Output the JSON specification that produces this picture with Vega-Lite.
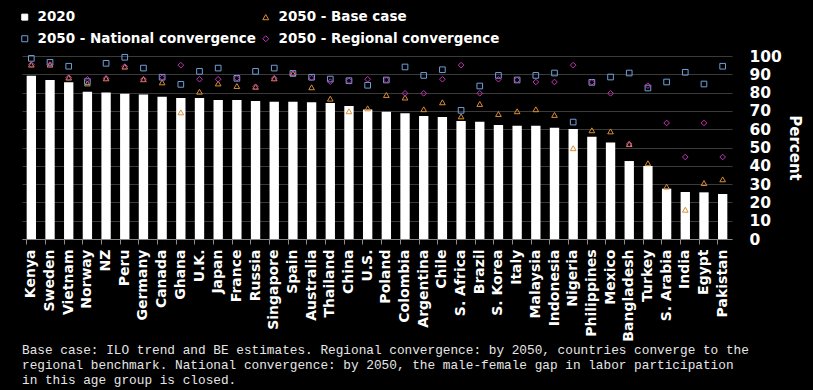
{
  "$schema": "https://vega.github.io/schema/vega-lite/v6.json",
  "autosize": {"type": "none"},
  "width": 710,
  "height": 183,
  "padding": {"left": 22, "top": 56, "right": 81, "bottom": 151},
  "background": "black",
  "title": {
    "text": [
      "Base case: ILO trend and BE estimates. Regional convergence: by 2050, countries converge to the",
      "regional benchmark. National convergence: by 2050, the male-female gap in labor participation",
      "in this age group is closed."
    ],
    "orient": "bottom",
    "anchor": "start",
    "frame": "group",
    "font": "Liberation Mono",
    "fontSize": 12.75,
    "fontWeight": "normal",
    "color": "#e6e6e6",
    "lineHeight": 15,
    "offset": 3
  },
  "config": {
    "view": {"stroke": null},
    "axis": {"labelFont": "DejaVu Sans", "titleFont": "DejaVu Sans"}
  },
  "data": {
    "values": [
      {"c": "Kenya", "s": "2020", "v": 89.2}, {"c": "Kenya", "s": "2050 - Base case", "v": 95.3}, {"c": "Kenya", "s": "2050 - National convergence", "v": 98.7}, {"c": "Kenya", "s": "2050 - Regional convergence", "v": 95.3},
      {"c": "Sweden", "s": "2020", "v": 86.9}, {"c": "Sweden", "s": "2050 - Base case", "v": 95.3}, {"c": "Sweden", "s": "2050 - National convergence", "v": 96.5}, {"c": "Sweden", "s": "2050 - Regional convergence", "v": 95.3},
      {"c": "Vietnam", "s": "2020", "v": 85.6}, {"c": "Vietnam", "s": "2050 - Base case", "v": 88.2}, {"c": "Vietnam", "s": "2050 - National convergence", "v": 94.4}, {"c": "Vietnam", "s": "2050 - Regional convergence", "v": 88.2},
      {"c": "Norway", "s": "2020", "v": 80.5}, {"c": "Norway", "s": "2050 - Base case", "v": 85.0}, {"c": "Norway", "s": "2050 - National convergence", "v": 86.0}, {"c": "Norway", "s": "2050 - Regional convergence", "v": 87.3},
      {"c": "NZ", "s": "2020", "v": 80.0}, {"c": "NZ", "s": "2050 - Base case", "v": 87.8}, {"c": "NZ", "s": "2050 - National convergence", "v": 96.0}, {"c": "NZ", "s": "2050 - Regional convergence", "v": 87.8},
      {"c": "Peru", "s": "2020", "v": 79.4}, {"c": "Peru", "s": "2050 - Base case", "v": 94.2}, {"c": "Peru", "s": "2050 - National convergence", "v": 99.3}, {"c": "Peru", "s": "2050 - Regional convergence", "v": 94.2},
      {"c": "Germany", "s": "2020", "v": 78.9}, {"c": "Germany", "s": "2050 - Base case", "v": 87.3}, {"c": "Germany", "s": "2050 - National convergence", "v": 93.4}, {"c": "Germany", "s": "2050 - Regional convergence", "v": 87.3},
      {"c": "Canada", "s": "2020", "v": 77.8}, {"c": "Canada", "s": "2050 - Base case", "v": 85.6}, {"c": "Canada", "s": "2050 - National convergence", "v": 88.4}, {"c": "Canada", "s": "2050 - Regional convergence", "v": 88.2},
      {"c": "Ghana", "s": "2020", "v": 77.0}, {"c": "Ghana", "s": "2050 - Base case", "v": 69.2}, {"c": "Ghana", "s": "2050 - National convergence", "v": 84.5}, {"c": "Ghana", "s": "2050 - Regional convergence", "v": 95.0},
      {"c": "U.K.", "s": "2020", "v": 77.0}, {"c": "U.K.", "s": "2050 - Base case", "v": 80.5}, {"c": "U.K.", "s": "2050 - National convergence", "v": 91.6}, {"c": "U.K.", "s": "2050 - Regional convergence", "v": 87.3},
      {"c": "Japan", "s": "2020", "v": 76.0}, {"c": "Japan", "s": "2050 - Base case", "v": 85.0}, {"c": "Japan", "s": "2050 - National convergence", "v": 93.4}, {"c": "Japan", "s": "2050 - Regional convergence", "v": 87.3},
      {"c": "France", "s": "2020", "v": 76.0}, {"c": "France", "s": "2050 - Base case", "v": 83.6}, {"c": "France", "s": "2050 - National convergence", "v": 87.8}, {"c": "France", "s": "2050 - Regional convergence", "v": 87.8},
      {"c": "Russia", "s": "2020", "v": 75.4}, {"c": "Russia", "s": "2050 - Base case", "v": 83.2}, {"c": "Russia", "s": "2050 - National convergence", "v": 91.6}, {"c": "Russia", "s": "2050 - Regional convergence", "v": 83.2},
      {"c": "Singapore", "s": "2020", "v": 75.0}, {"c": "Singapore", "s": "2050 - Base case", "v": 87.8}, {"c": "Singapore", "s": "2050 - National convergence", "v": 93.4}, {"c": "Singapore", "s": "2050 - Regional convergence", "v": 87.8},
      {"c": "Spain", "s": "2020", "v": 75.0}, {"c": "Spain", "s": "2050 - Base case", "v": 90.5}, {"c": "Spain", "s": "2050 - National convergence", "v": 90.5}, {"c": "Spain", "s": "2050 - Regional convergence", "v": 90.5},
      {"c": "Australia", "s": "2020", "v": 74.7}, {"c": "Australia", "s": "2050 - Base case", "v": 82.9}, {"c": "Australia", "s": "2050 - National convergence", "v": 88.4}, {"c": "Australia", "s": "2050 - Regional convergence", "v": 88.0},
      {"c": "Thailand", "s": "2020", "v": 74.3}, {"c": "Thailand", "s": "2050 - Base case", "v": 76.7}, {"c": "Thailand", "s": "2050 - National convergence", "v": 87.4}, {"c": "Thailand", "s": "2050 - Regional convergence", "v": 86.0},
      {"c": "China", "s": "2020", "v": 72.7}, {"c": "China", "s": "2050 - Base case", "v": 69.8}, {"c": "China", "s": "2050 - National convergence", "v": 86.5}, {"c": "China", "s": "2050 - Regional convergence", "v": 86.5},
      {"c": "U.S.", "s": "2020", "v": 70.7}, {"c": "U.S.", "s": "2050 - Base case", "v": 71.4}, {"c": "U.S.", "s": "2050 - National convergence", "v": 84.0}, {"c": "U.S.", "s": "2050 - Regional convergence", "v": 87.3},
      {"c": "Poland", "s": "2020", "v": 69.6}, {"c": "Poland", "s": "2050 - Base case", "v": 78.7}, {"c": "Poland", "s": "2050 - National convergence", "v": 86.9}, {"c": "Poland", "s": "2050 - Regional convergence", "v": 86.9},
      {"c": "Colombia", "s": "2020", "v": 68.7}, {"c": "Colombia", "s": "2050 - Base case", "v": 77.3}, {"c": "Colombia", "s": "2050 - National convergence", "v": 94.0}, {"c": "Colombia", "s": "2050 - Regional convergence", "v": 79.6},
      {"c": "Argentina", "s": "2020", "v": 67.2}, {"c": "Argentina", "s": "2050 - Base case", "v": 70.9}, {"c": "Argentina", "s": "2050 - National convergence", "v": 89.4}, {"c": "Argentina", "s": "2050 - Regional convergence", "v": 79.6},
      {"c": "Chile", "s": "2020", "v": 66.7}, {"c": "Chile", "s": "2050 - Base case", "v": 74.7}, {"c": "Chile", "s": "2050 - National convergence", "v": 92.5}, {"c": "Chile", "s": "2050 - Regional convergence", "v": 87.3},
      {"c": "S. Africa", "s": "2020", "v": 64.5}, {"c": "S. Africa", "s": "2050 - Base case", "v": 67.0}, {"c": "S. Africa", "s": "2050 - National convergence", "v": 70.3}, {"c": "S. Africa", "s": "2050 - Regional convergence", "v": 95.0},
      {"c": "Brazil", "s": "2020", "v": 64.1}, {"c": "Brazil", "s": "2050 - Base case", "v": 73.8}, {"c": "Brazil", "s": "2050 - National convergence", "v": 83.6}, {"c": "Brazil", "s": "2050 - Regional convergence", "v": 79.6},
      {"c": "S. Korea", "s": "2020", "v": 62.3}, {"c": "S. Korea", "s": "2050 - Base case", "v": 68.3}, {"c": "S. Korea", "s": "2050 - National convergence", "v": 89.4}, {"c": "S. Korea", "s": "2050 - Regional convergence", "v": 87.3},
      {"c": "Italy", "s": "2020", "v": 61.9}, {"c": "Italy", "s": "2050 - Base case", "v": 69.8}, {"c": "Italy", "s": "2050 - National convergence", "v": 86.9}, {"c": "Italy", "s": "2050 - Regional convergence", "v": 86.9},
      {"c": "Malaysia", "s": "2020", "v": 61.9}, {"c": "Malaysia", "s": "2050 - Base case", "v": 70.9}, {"c": "Malaysia", "s": "2050 - National convergence", "v": 89.4}, {"c": "Malaysia", "s": "2050 - Regional convergence", "v": 85.8},
      {"c": "Indonesia", "s": "2020", "v": 60.8}, {"c": "Indonesia", "s": "2050 - Base case", "v": 67.8}, {"c": "Indonesia", "s": "2050 - National convergence", "v": 90.7}, {"c": "Indonesia", "s": "2050 - Regional convergence", "v": 85.8},
      {"c": "Nigeria", "s": "2020", "v": 60.1}, {"c": "Nigeria", "s": "2050 - Base case", "v": 49.6}, {"c": "Nigeria", "s": "2050 - National convergence", "v": 63.9}, {"c": "Nigeria", "s": "2050 - Regional convergence", "v": 95.0},
      {"c": "Philippines", "s": "2020", "v": 55.9}, {"c": "Philippines", "s": "2050 - Base case", "v": 59.4}, {"c": "Philippines", "s": "2050 - National convergence", "v": 85.6}, {"c": "Philippines", "s": "2050 - Regional convergence", "v": 85.6},
      {"c": "Mexico", "s": "2020", "v": 52.8}, {"c": "Mexico", "s": "2050 - Base case", "v": 58.8}, {"c": "Mexico", "s": "2050 - National convergence", "v": 88.5}, {"c": "Mexico", "s": "2050 - Regional convergence", "v": 79.6},
      {"c": "Bangladesh", "s": "2020", "v": 42.6}, {"c": "Bangladesh", "s": "2050 - Base case", "v": 51.9}, {"c": "Bangladesh", "s": "2050 - National convergence", "v": 90.7}, {"c": "Bangladesh", "s": "2050 - Regional convergence", "v": 51.9},
      {"c": "Turkey", "s": "2020", "v": 39.9}, {"c": "Turkey", "s": "2050 - Base case", "v": 41.4}, {"c": "Turkey", "s": "2050 - National convergence", "v": 82.5}, {"c": "Turkey", "s": "2050 - Regional convergence", "v": 83.8},
      {"c": "S. Arabia", "s": "2020", "v": 27.5}, {"c": "S. Arabia", "s": "2050 - Base case", "v": 28.6}, {"c": "S. Arabia", "s": "2050 - National convergence", "v": 85.8}, {"c": "S. Arabia", "s": "2050 - Regional convergence", "v": 63.4},
      {"c": "India", "s": "2020", "v": 25.7}, {"c": "India", "s": "2050 - Base case", "v": 16.0}, {"c": "India", "s": "2050 - National convergence", "v": 91.1}, {"c": "India", "s": "2050 - Regional convergence", "v": 44.8},
      {"c": "Egypt", "s": "2020", "v": 25.5}, {"c": "Egypt", "s": "2050 - Base case", "v": 30.6}, {"c": "Egypt", "s": "2050 - National convergence", "v": 84.7}, {"c": "Egypt", "s": "2050 - Regional convergence", "v": 63.4},
      {"c": "Pakistan", "s": "2020", "v": 24.6}, {"c": "Pakistan", "s": "2050 - Base case", "v": 32.6}, {"c": "Pakistan", "s": "2050 - National convergence", "v": 94.4}, {"c": "Pakistan", "s": "2050 - Regional convergence", "v": 44.8}
    ]
  },
  "encoding": {
    "y": {
      "field": "v", "type": "quantitative",
      "scale": {"domain": [0, 100]},
      "axis": {
        "orient": "right", "title": "Percent", "values": [0, 10, 20, 30, 40, 50, 60, 70, 80, 90, 100],
        "labelOverlap": false, "labelFontSize": 15.5, "labelFontWeight": "bold", "labelColor": "white", "labelPadding": 17,
        "ticks": false, "domain": false, "grid": true, "gridColor": "#3a3a3a", "gridWidth": 1,
        "titleFontSize": 15, "titleFontWeight": "bold", "titleColor": "white", "titleAngle": 90, "titlePadding": 5
      }
    }
  },
  "resolve": {"axis": {"x": "independent"}},
  "layer": [
    {
      "transform": [{"filter": "datum.s === '2020'"}],
      "mark": {"type": "bar", "color": "white"},
      "encoding": {
        "x": {
          "field": "c", "type": "nominal", "sort": null,
          "scale": {"paddingInner": 0.5, "paddingOuter": 0.25},
          "axis": {
            "orient": "bottom", "title": null, "labelAngle": 270, "labelAlign": "right", "labelBaseline": "middle",
            "labelFontSize": 14, "labelFontWeight": "bold", "labelColor": "white", "labelPadding": 10,
            "ticks": false, "domain": false, "grid": false
          }
        }
      }
    },
    {
      "transform": [{"filter": "datum.s !== '2020'"}],
      "mark": {"type": "point", "strokeWidth": 1, "size": 32, "opacity": 1},
      "encoding": {
        "x": {
          "field": "c", "type": "nominal", "sort": null,
          "axis": {
            "orient": "bottom", "title": null, "labels": false, "grid": false,
            "ticks": true, "tickSize": 5, "tickColor": "#8a8a8a", "bandPosition": 0,
            "domain": true, "domainColor": "#8a8a8a"
          }
        },
        "color": {
          "field": "s", "type": "nominal",
          "scale": {
            "domain": ["2020", "2050 - Base case", "2050 - National convergence", "2050 - Regional convergence"],
            "range": ["#ffffff", "#d98f35", "#6f9fd8", "#c235b4"]
          },
          "legend": {
            "title": null, "orient": "none", "legendX": -4, "legendY": -46, "direction": "horizontal", "columns": 2,
            "columnPadding": 3, "rowPadding": 7, "labelLimit": 400,
            "labelFont": "DejaVu Sans", "labelFontSize": 13.5, "labelFontWeight": "bold", "labelColor": "white",
            "symbolSize": 36, "symbolStrokeWidth": 1, "labelOffset": 6
          }
        },
        "shape": {
          "field": "s", "type": "nominal",
          "scale": {
            "domain": ["2020", "2050 - Base case", "2050 - National convergence", "2050 - Regional convergence"],
            "range": ["square", "triangle-up", "square", "diamond"]
          }
        },
        "fill": {
          "field": "s", "type": "nominal",
          "scale": {
            "domain": ["2020", "2050 - Base case", "2050 - National convergence", "2050 - Regional convergence"],
            "range": ["#ffffff", "transparent", "transparent", "transparent"]
          }
        }
      }
    }
  ]
}
